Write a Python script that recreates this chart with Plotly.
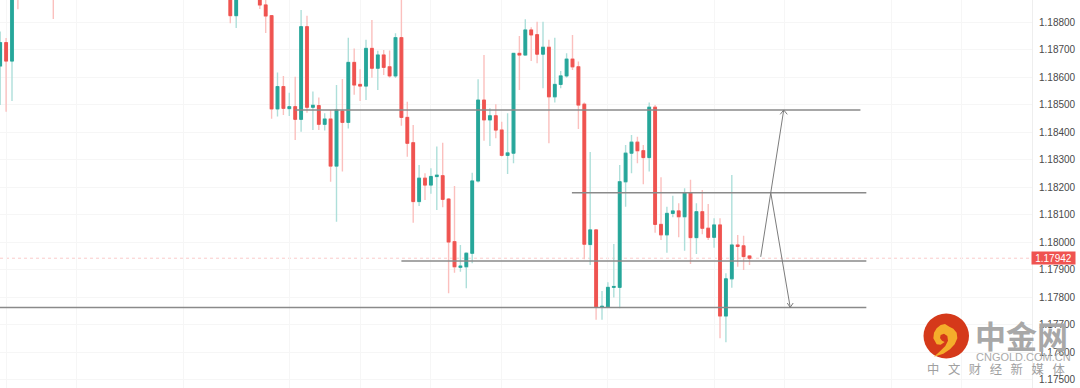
import plotly.graph_objects as go

# Candle slots (bar number, left to right) and prices in 1e-5 units
slot = [0,1,2,3,9,39,40,44,45] + list(range(46,128))
opens = [118641,118726,118659,118990,119100,118960,118824,118930,118863,
 118824,118485,118566,118486,118493,118447,118784,118491,118497,118429,118448,118277,118477,118436,118654,118574,118568,118705,118633,118681,118638,118605,118744,118454,118362,118148,118233,118208,118239,118242,118157,118002,117909,117911,117960,118223,118517,118445,118460,118408,118316,118324,118687,118681,118772,118755,118684,118709,118529,118574,118605,118666,118638,118502,117992,118045,117764,117764,117836,117836,118220,118324,118364,118333,118308,118491,118065,118027,118105,118114,118093,118180,118017,118111,118051,118018,118063,117732,117867,117990,117987,117950]
highs = [118766,118743,118980,119010,119130,118990,118980,118960,118900,
 118824,118617,118605,118544,118602,118845,118824,118548,118526,118469,118481,118572,118594,118744,118705,118629,118736,118808,118696,118699,118697,118760,118920,118511,118426,118281,118251,118269,118348,118362,118161,118205,117990,117964,118253,118593,118681,118487,118502,118438,118469,118687,118750,118811,118782,118802,118802,118736,118744,118623,118687,118754,118657,118508,118328,118045,117823,117855,117994,118281,118354,118390,118384,118354,118508,118499,118236,118129,118169,118142,118196,118227,118142,118190,118139,118087,118087,117887,118245,118026,118024,117954]
lows = [118499,118475,118514,118847,118812,118796,118779,118848,118761,
 118449,118457,118463,118459,118372,118402,118471,118408,118408,118406,118220,118075,118257,118414,118536,118514,118517,118598,118554,118608,118598,118597,118424,118311,118071,118132,118154,118176,118117,118127,117815,117889,117893,117833,117924,118217,118369,118350,118378,118312,118248,118287,118554,118681,118659,118651,118560,118360,118508,118560,118598,118626,118412,117938,117917,117718,117718,117763,117799,117760,118129,118251,118287,118211,118257,118035,118008,117962,118091,118018,117969,117921,117957,118029,118008,117980,117651,117636,117835,117911,117899,117917]
closes = [118726,118659,118950,118950,119000,118824,118950,118863,118823,
 118485,118566,118487,118493,118447,118784,118491,118498,118429,118448,118277,118481,118436,118654,118572,118568,118705,118633,118681,118636,118605,118744,118454,118360,118148,118233,118208,118239,118244,118156,118001,117911,117913,117960,118223,118517,118445,118460,118408,118316,118325,118687,118681,118772,118754,118684,118709,118529,118574,118605,118666,118638,118499,117993,118045,117764,117767,117836,117839,118220,118324,118364,118333,118308,118491,118065,118027,118105,118114,118093,118180,118017,118111,118051,118018,118063,117732,117867,117990,117985,117948,117942]

tick_prices = [117500,117600,117700,117800,117900,118000,118100,118200,118300,118400,118500,118600,118700,118800]
time_grid_slots = [1,13,31,49,61,73,85,103,121,133,151,163]

last_price = 117942
level_prices = [118481,118180,117932,117763]
level_starts = [50,96.9,68,-1]
level_end = [145.8,146.8,146.8,146.8]

up_path_x = [128.9,132.8]
up_path_p = [117947,118481]
up_head_x = [132.2,132.8,133.4]
up_head_p = [118465,118481,118465]
down_path_x = [130.6,133.9]
down_path_p = [118180,117763]
down_head_x = [133.4,133.9,134.4]
down_head_p = [117779,117763,117779]

UP, DOWN = "#26a69a", "#ef5350"
UP_W, DOWN_W = "#aedfda", "#fbc0be"
P = lambda seq: [v / 100000 for v in seq]

body_hi = [max(o, c) for o, c in zip(opens, closes)]
body_lo = [min(o, c) for o, c in zip(opens, closes)]

fig = go.Figure()
fig.add_trace(go.Candlestick(x=slot, open=P(opens), high=P(highs), low=P(lows), close=P(closes),
    whiskerwidth=0, hoverinfo="skip", showlegend=False,
    increasing=dict(line=dict(color=UP_W, width=1.4), fillcolor=UP_W),
    decreasing=dict(line=dict(color=DOWN_W, width=1.4), fillcolor=DOWN_W)))
fig.add_trace(go.Candlestick(x=slot, open=P(opens), high=P(body_hi), low=P(body_lo), close=P(closes),
    whiskerwidth=0, hoverinfo="skip", showlegend=False,
    increasing=dict(line=dict(color=UP, width=1), fillcolor=UP),
    decreasing=dict(line=dict(color=DOWN, width=1), fillcolor=DOWN)))

for p, a, b in zip(level_prices, level_starts, level_end):
    fig.add_trace(go.Scatter(x=[a, b], y=P([p, p]), mode="lines", hoverinfo="skip", showlegend=False,
                             line=dict(color="#8a8a8a", width=1.6)))
for xs, ps in [(up_path_x, up_path_p), (up_head_x, up_head_p), (down_path_x, down_path_p), (down_head_x, down_head_p)]:
    fig.add_trace(go.Scatter(x=xs, y=P(ps), mode="lines", hoverinfo="skip", showlegend=False,
                             line=dict(color="#7c7c7c", width=1)))

W, H, PW = 1080, 388, 1032
px = lambda x: x / PW
py = lambda y: 1 - y / H
def outline(points, close=False):
    d = "M " + " L ".join(f"{px(920+x/3):.5f},{py(310+y/3):.5f}" for x, y in points)
    return d + (" Z" if close else "")

cloud = [(40,85),(42,68),(50,55),(62,45),(75,42),(88,50),(100,56),(110,68),(112,85),(104,103),(90,118),(70,131),(42,140),
         (60,124),(76,108),(84,92),(82,78),(72,71),(62,75),(60,84),(66,92),(74,96),(62,104),(50,103)]

shapes = [
    dict(type="line", xref="paper", yref="y", x0=0, x1=1, y0=last_price/100000, y1=last_price/100000,
         line=dict(color="rgba(239,83,80,0.3)", width=1, dash="dot"), layer="below"),
    dict(type="circle", xref="paper", yref="paper", x0=px(923.5), x1=px(969), y0=py(358.5), y1=py(313.5),
         fillcolor="#d5391a", line=dict(width=0), layer="above"),
    dict(type="path", xref="paper", yref="paper", layer="above", fillcolor="#f5ad2b",
         line=dict(width=0), path=outline(cloud, True)),
]

spaced = "\u2002\u2009".join("中文财经新媒体")
anns = [
    dict(xref="paper", yref="y", x=1031/PW, y=last_price/100000, xanchor="left", yanchor="middle",
         text="1.17942", showarrow=False, width=43, height=12, bgcolor=DOWN, borderpad=0,
         font=dict(color="white", size=10, family="Liberation Sans")),
    dict(xref="paper", yref="paper", x=px(973), y=py(334), xanchor="left", yanchor="middle", text="<b>中金网</b>",
         showarrow=False, font=dict(size=31, color="#a8a8a8", family="Noto Sans CJK SC")),
    dict(xref="paper", yref="paper", x=px(974), y=py(357), xanchor="left", yanchor="middle", text="CNGOLD.COM.CN",
         showarrow=False, font=dict(size=11, color="#ababab", family="Liberation Sans")),
    dict(xref="paper", yref="paper", x=px(925), y=py(369), xanchor="left", yanchor="middle",
         text=spaced, showarrow=False,
         font=dict(size=12.3, color="#a0a0a0", family="Noto Sans CJK SC")),
]

fig.update_layout(
    width=W, height=H, autosize=False, margin=dict(l=0, r=W-PW, t=0, b=0),
    paper_bgcolor="white", plot_bgcolor="white", showlegend=False, boxgap=0.35,
    shapes=shapes, annotations=anns,
    font=dict(family="Liberation Sans", size=10, color="#4a4a4a"),
    xaxis=dict(range=[-0.034, 174.88], rangeslider=dict(visible=False), tickvals=time_grid_slots,
               showticklabels=False, showgrid=True, gridcolor="#f6f6f6", gridwidth=1, zeroline=False, ticks=""),
    yaxis=dict(range=[1.17470, 1.18881], side="right", tickvals=P(tick_prices), tickformat=".5f",
               showgrid=True, gridcolor="#f6f6f6", gridwidth=1, zeroline=False, showline=True,
               linecolor="#eeeeee", linewidth=1, ticks="outside", ticklen=4, tickcolor="rgba(0,0,0,0)",
               tickfont=dict(size=10, color="#4a4a4a")),
)

fig.write_html("out.html", config=dict(displayModeBar=False),
               post_script="document.body.style.margin='0';document.body.style.overflow='hidden';")
